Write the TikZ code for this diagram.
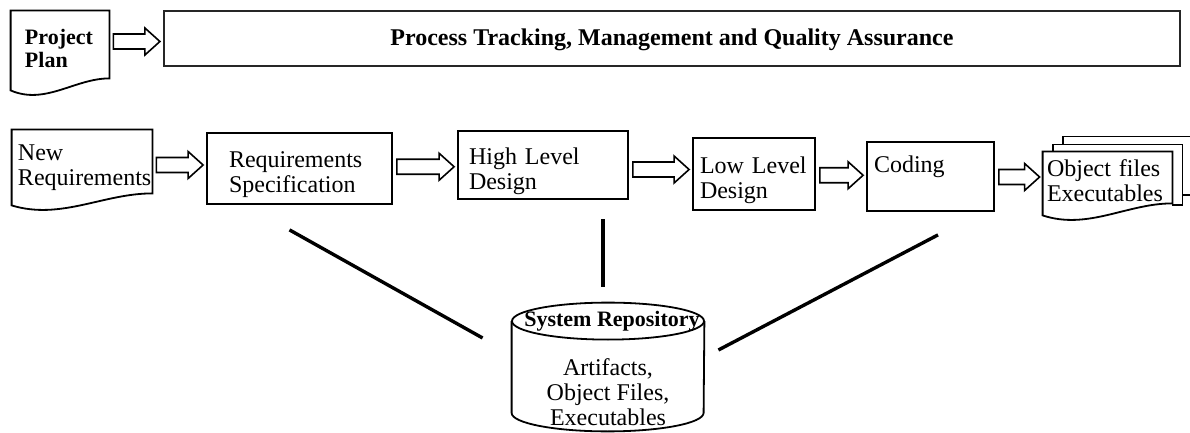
\documentclass[tikz,border=0pt]{standalone}
\usepackage{fontspec}
\setmainfont{Liberation Serif}
\usetikzlibrary{calc}

\tikzset{
	txt/.style = {font = \fontsize{12}{12.5}\selectfont},
	heading/.style = {font = \bfseries\fontsize{11}{11.5}\selectfont},
	box/.style = {txt, draw, line width = 0.9pt, align = left, inner xsep = 3.5pt, text height = 11.3pt, text depth = 12.1pt},
	doc/.style = {txt, align = left, inner sep = 2pt, text height = 11.3pt, text depth = 12.1pt},
	outline/.style = {line width = 0.9pt},
	link/.style = {line width = 1.7pt},
	blockarrow/.style = {line width = 0.8pt, fill = white,
		to path = {let \p1 = (\tikztostart), \p2 = (\tikztotarget), \p3 = ($(\tikztostart)!0.5!(\tikztotarget)$) in
			(\x1+2pt, \y3+3.75pt) -- (\x2-9pt, \y3+3.75pt) -- (\x2-9pt, \y3+6.75pt) -- (\x2-1.5pt, \y3)
			-- (\x2-9pt, \y3-6.75pt) -- (\x2-9pt, \y3-3.75pt) -- (\x1+2pt, \y3-3.75pt) -- cycle}}
}

% wavy lower edge of a document symbol
\newcommand{\docbottom}[1]{(#1.south east) .. controls ($(#1.south east)!0.35!(#1.south west)$) and ($(#1.south east)!0.65!(#1.south west)+(0,27)$) .. ($(#1.south west)+(0,12)$)}

\begin{document}
\begin{tikzpicture}[x = 0.5pt, y = -0.5pt]
	
	\useasboundingbox (0, 0) rectangle (1190, 433);
	
	\node[doc, heading, inner xsep = 7pt, text width = 35pt, text height = 9.5pt, text depth = 9.5pt, minimum height = 33.5pt] (1) at (60, 44.5) {Project\\Plan};
	\node[box, font = \bfseries\fontsize{12}{13}\selectfont, align = center, text height = 9pt, text depth = 2pt, draw = black!85, line width = 1.1pt, minimum width = 508pt, minimum height = 27.5pt] (2) at (672, 38.5) {Process Tracking, Management and Quality Assurance};
	
	\node[doc, inner sep = 3pt, text width = 64pt, minimum height = 31.5pt] (3) at (82, 161.5) {New\\Requirements};
	\node[box, inner xsep = 11pt, text width = 70.5pt, minimum height = 35.5pt] (4) at (299.5, 168.5) {Requirements\\Specification};
	\node[box, inner xsep = 5.5pt, text width = 74pt, minimum height = 34pt] (5) at (543, 165) {High Level\\Design};
	\node[box, text width = 54pt, minimum height = 36pt] (6) at (754, 174) {Low Level\\Design};
	\node[box, text width = 56.5pt, text depth = 14.8pt, minimum height = 34.5pt] (7) at (930.5, 176.5) {Coding};
	\node[doc, inner ysep = 0.5pt, text width = 60.5pt, minimum height = 25.5pt] (8) at (1107.5, 177.5) {Object files\\Executables};
	
	\node[inner sep = 0pt, minimum width = 96pt, minimum height = 64pt] (9) at (608, 367) {};
	\node[heading] (10) at (612, 321) {System Repository};
	\node[txt, align = center] (11) at (608, 392) {Artifacts,\\Object Files,\\Executables};
	
	% document outlines
	\draw[outline] (1.north west) -- (1.north east) -- \docbottom{1} -- cycle;
	\draw[outline] (3.north west) -- (3.north east) -- \docbottom{3} -- cycle;
	\draw[outline] (8.north west) -- (8.north east) -- \docbottom{8} -- cycle;
	\draw[outline] ($(8.north west)+(10, 0)$) -- ++(0, -7) -| ($(8.south east)+(10, 2)$) -- ($(8.south east)+(0, 2)$);
	\draw[outline] ($(8.north west)+(20, -7)$) -- ++(0, -8) -| ($(8.south east)+(26, -8)$) -- ($(8.south east)+(10, -8)$);
	
	% repository
	\draw[outline] ([yshift = -9.25pt]9.north west) -- ([yshift = 9.25pt]9.south west)
		arc[start angle = 180, end angle = 360, x radius = 48pt, y radius = 9.25pt] -- ([yshift = -9.25pt]9.north east);
	\draw[outline] ([yshift = -9.25pt]9.north) ellipse[x radius = 48pt, y radius = 9.25pt];
	
	\draw[blockarrow] (1.east) to (2.west);
	\draw[blockarrow] (3.east) to (4.west);
	\draw[blockarrow] (4.east) to (5.west);
	\draw[blockarrow] (5.east) to (6.west);
	\draw[blockarrow] (6.east) to (7.west);
	\draw[blockarrow] (7.east) to (8.west);
	
	\path ($(4.south)+(-10, 25)$) edge[link] ($(9.west)+(-29, -29)$);
	\path ($(9.north)+(-5, -16)$) edge[link] ($(5.south -| 9.north)+(-5, 19)$);
	\path ($(7.south)+(7.5, 23)$) edge[link] ($(9.east)+(14, -17)$);
	
\end{tikzpicture}
\end{document}
